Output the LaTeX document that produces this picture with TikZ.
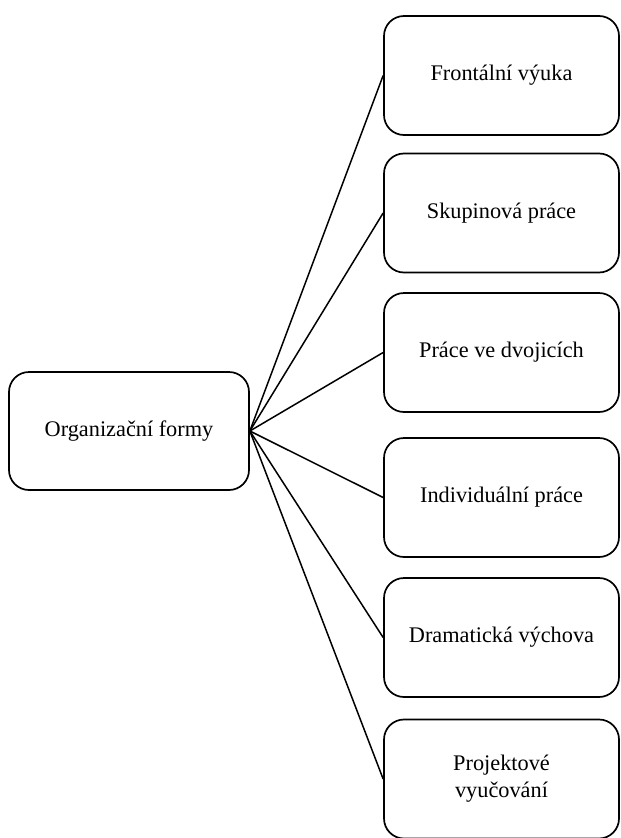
\documentclass[tikz,border=0pt]{standalone}
\usepackage{fontspec}
\setmainfont{Liberation Serif}
\usetikzlibrary{positioning}
\tikzset{
    formbox/.style={draw, line width=1.7pt, rounded corners=20pt, minimum width=235pt, minimum height=119pt, align=center, inner sep=2pt, font=\fontsize{22.3}{27}\selectfont},
    branch/.style={line width=1.5pt}
}
\begin{document}
\begin{tikzpicture}[x=1pt, y=-1pt]
    \useasboundingbox (0,0) rectangle (621,838);

    % Main node
    \node[formbox, minimum width=240pt, minimum height=118pt] (org) at (129,431) {Organizační formy};

    % Forms on the right
    \node[formbox] (frontal) at (501.5,75.5) {Frontální výuka};
    \node[formbox] (group) at (501.5,213) {Skupinová práce};
    \node[formbox] (pairs) at (501.5,352.5) {Práce ve dvojicích};
    \node[formbox] (indiv) at (501.5,497.5) {Individuální práce};
    \node[formbox] (drama) at (501.5,637.5) {Dramatická výchova};
    \node[formbox] (project) at (501.5,779) {Projektové\\vyučování};

    \foreach \form in {frontal,group,pairs,indiv,drama,project} {
        \draw[branch] (org.east) -- (\form.west);
    }
\end{tikzpicture}
\end{document}
